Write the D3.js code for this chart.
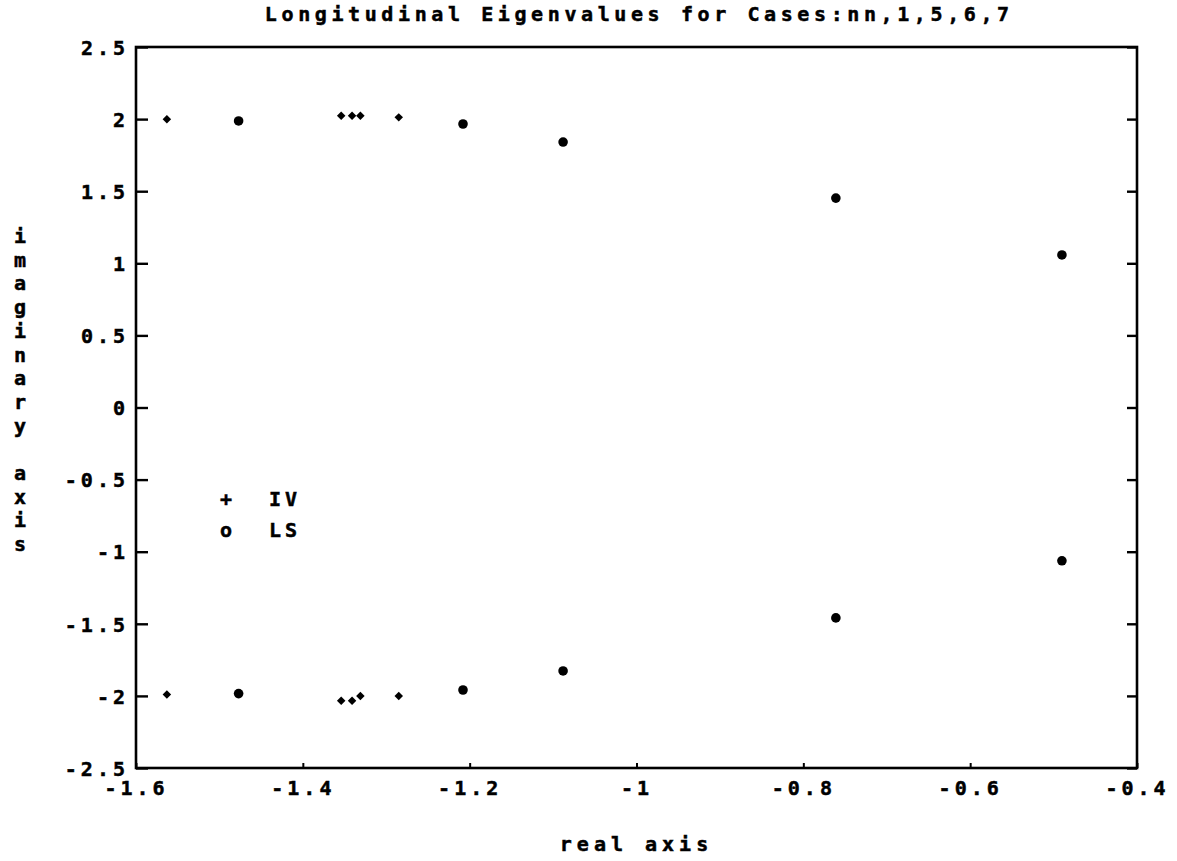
<!DOCTYPE html>
<html>
<head>
<meta charset="utf-8">
<script src="https://cdn.jsdelivr.net/npm/d3@7"></script>
<style>
  html, body { margin: 0; padding: 0; background: #fff; }
  svg text { font-family: "DejaVu Sans Mono", "Liberation Mono", monospace; font-weight: bold; fill: #000; stroke: #000; stroke-width: 0.5px; }
</style>
</head>
<body>
<svg id="chart" width="1177" height="861"></svg>
<script>
// Longitudinal eigenvalues (real, imaginary) for the cases nn,1,5,6,7
const ivReal = [-1.563, -1.354, -1.341, -1.331, -1.285,
                -1.563, -1.354, -1.341, -1.331, -1.285];
const ivImag = [ 1.999,  2.024,  2.024,  2.024,  2.012,
                -1.990, -2.033, -2.033, -2.000, -2.000];
const lsReal = [-1.477, -1.208, -1.088, -0.761, -0.490,
                -1.477, -1.208, -1.088, -0.761, -0.490];
const lsImag = [ 1.987,  1.966,  1.841,  1.452,  1.058,
                -1.984, -1.959, -1.827, -1.459, -1.063];

const xTicks = [-1.6, -1.4, -1.2, -1.0, -0.8, -0.6, -0.4];
const xTickLabels = ["-1.6", "-1.4", "-1.2", "-1", "-0.8", "-0.6", "-0.4"];
const yTicks = [2.5, 2, 1.5, 1, 0.5, 0, -0.5, -1, -1.5, -2, -2.5];
const yTickLabels = ["2.5", "2", "1.5", "1", "0.5", "0", "-0.5", "-1", "-1.5", "-2", "-2.5"];

const titleText = "Longitudinal Eigenvalues for Cases:nn,1,5,6,7";
const xTitle = "real axis";
const yTitle = "imaginary axis";
const legendSymbols = ["+", "o"];
const legendNames = ["IV", "LS"];

const svg = d3.select("#chart");
const plotL = 136, plotR = 1137, plotT = 47, plotB = 768;
const FS = 20;   // font size for all labels
const LS = 4;    // letter spacing of tick labels

const x = d3.scaleLinear().domain([-1.6, -0.4]).range([plotL, plotR]);
const y = d3.scaleLinear().domain([-2.5, 2.5]).range([plotB, plotT]);

// plot frame
svg.append("rect")
  .attr("x", plotL).attr("y", plotT)
  .attr("width", plotR - plotL).attr("height", plotB - plotT)
  .attr("fill", "none").attr("stroke", "#000").attr("stroke-width", 2.6);

function styleAxis(g) {
  g.select(".domain").remove();
  g.selectAll(".tick line").attr("stroke", "#000").attr("stroke-width", 2.4);
  g.selectAll(".tick text")
    .attr("font-size", FS)
    .style("letter-spacing", LS + "px");
}

// left axis with inward ticks and labels
const yAxisL = d3.axisLeft(y)
  .tickValues(yTicks)
  .tickSize(-12)
  .tickPadding(11 - LS)
  .tickFormat((d, i) => yTickLabels[i]);
svg.append("g").attr("transform", `translate(${plotL},0)`).call(yAxisL).call(styleAxis)
  .selectAll(".tick text").attr("dy", "0.36em");

// right axis: inward ticks only
const yAxisR = d3.axisRight(y).tickValues(yTicks).tickSize(-10).tickFormat("");
svg.append("g").attr("transform", `translate(${plotR},0)`).call(yAxisR).call(styleAxis);

// bottom axis with short inward ticks
const xAxis = d3.axisBottom(x)
  .tickValues(xTicks)
  .tickSize(-5)
  .tickPadding(13)
  .tickFormat((d, i) => xTickLabels[i]);
const gx = svg.append("g").attr("transform", `translate(0,${plotB})`).call(xAxis).call(styleAxis);
gx.selectAll(".tick text").attr("dx", LS / 2 - 2);
gx.selectAll(".tick line").attr("stroke-width", 2);

// eigenvalue markers
const ivData = ivReal.map((r, i) => [r, ivImag[i]]);
const lsData = lsReal.map((r, i) => [r, lsImag[i]]);

svg.append("g").selectAll("path").data(ivData).join("path")
  .attr("transform", d => `translate(${x(d[0])},${y(d[1])}) rotate(45)`)
  .attr("d", d3.symbol(d3.symbolSquare, 36))
  .attr("fill", "#000");

svg.append("g").selectAll("circle").data(lsData).join("circle")
  .attr("cx", d => x(d[0])).attr("cy", d => y(d[1]))
  .attr("r", 4.8)
  .attr("fill", "#000");

// title
svg.append("text")
  .attr("x", 637 + 2.3).attr("y", 21)
  .attr("text-anchor", "middle")
  .attr("font-size", FS)
  .style("letter-spacing", "4.6px")
  .text(titleText);

// x axis title
svg.append("text")
  .attr("x", 634 + 2.5).attr("y", 851)
  .attr("text-anchor", "middle")
  .attr("font-size", FS)
  .style("letter-spacing", "5px")
  .text(xTitle);

// y axis title, letters stacked vertically
svg.append("g").selectAll("text").data(yTitle.split("")).join("text")
  .attr("x", 20)
  .attr("y", (d, i) => 243 + i * 23.7)
  .attr("text-anchor", "middle")
  .attr("font-size", FS)
  .text(d => d);

// legend
const legend = svg.append("g");
legend.selectAll("text.sym").data(legendSymbols).join("text")
  .attr("class", "sym")
  .attr("x", 226).attr("y", (d, i) => 506 + i * 31)
  .attr("text-anchor", "middle")
  .attr("font-size", FS)
  .text(d => d);
legend.selectAll("text.name").data(legendNames).join("text")
  .attr("class", "name")
  .attr("x", 269).attr("y", (d, i) => 506 + i * 31)
  .attr("font-size", FS)
  .style("letter-spacing", LS + "px")
  .text(d => d);
</script>
</body>
</html>
